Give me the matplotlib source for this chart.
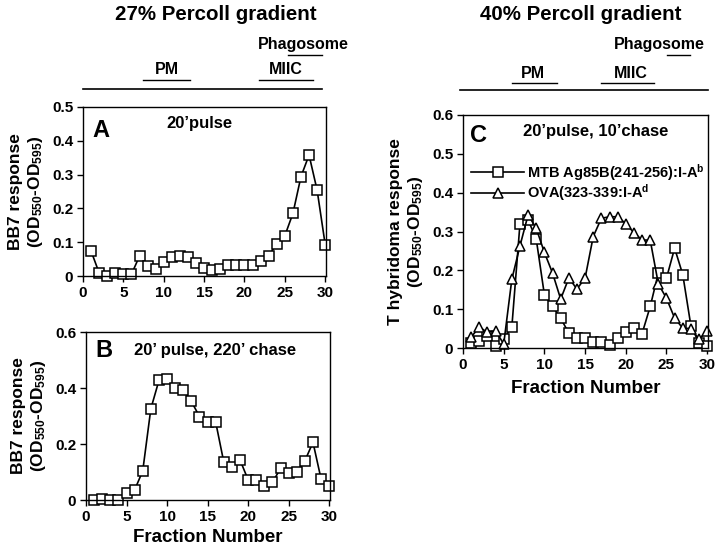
import numpy as np
import matplotlib
matplotlib.use('Agg')
import matplotlib.pyplot as plt
from matplotlib.lines import Line2D
from matplotlib.ticker import FuncFormatter

plt.rcParams['font.family'] = ['Liberation Sans', 'DejaVu Sans']
plt.rcParams['font.weight'] = 'bold'
plt.rcParams['axes.labelweight'] = 'bold'
plt.rcParams['mathtext.fontset'] = 'custom'
plt.rcParams['mathtext.rm'] = 'Liberation Sans:bold'
plt.rcParams['mathtext.it'] = 'Liberation Sans:bold'
plt.rcParams['mathtext.bf'] = 'Liberation Sans:bold'

# Fraction numbers
fractions = list(range(1, 31))

# Panel A: 27% Percoll, 20' pulse
bb7_pulse = [0.074, 0.009, 0.0, 0.009, 0.005, 0.005, 0.059, 0.030, 0.020, 0.042,
             0.056, 0.059, 0.056, 0.039, 0.025, 0.017, 0.020, 0.033, 0.033, 0.033,
             0.033, 0.045, 0.059, 0.096, 0.119, 0.185, 0.294, 0.358, 0.254, 0.093]

# Panel B: 27% Percoll, 20' pulse, 220' chase
bb7_chase = [0.0, 0.004, 0.0, 0.0, 0.024, 0.036, 0.104, 0.326, 0.427, 0.433,
             0.400, 0.394, 0.352, 0.298, 0.278, 0.278, 0.135, 0.119, 0.143, 0.072,
             0.072, 0.051, 0.063, 0.113, 0.095, 0.101, 0.140, 0.206, 0.075, 0.051]

# Panel C: 40% Percoll, 20' pulse, 10' chase
mtb_resp = [0.013, 0.017, 0.032, 0.004, 0.023, 0.054, 0.320, 0.330, 0.280, 0.137,
            0.107, 0.077, 0.038, 0.026, 0.026, 0.015, 0.015, 0.009, 0.026, 0.040,
            0.051, 0.037, 0.107, 0.193, 0.180, 0.257, 0.189, 0.057, 0.013, 0.004]
ova_resp = [0.028, 0.054, 0.040, 0.045, 0.010, 0.177, 0.263, 0.343, 0.308, 0.246,
            0.193, 0.126, 0.180, 0.152, 0.180, 0.287, 0.334, 0.338, 0.338, 0.320,
            0.297, 0.278, 0.278, 0.165, 0.128, 0.077, 0.051, 0.050, 0.023, 0.043]

W, H = 720, 548
fig = plt.figure(figsize=(W / 100, H / 100), dpi=100)


def px_axes(l, t, r, b):
    return fig.add_axes([l / W, 1 - b / H, (r - l) / W, (b - t) / H])


def hline(x0, x1, y, lw=1.0):
    fig.add_artist(Line2D([x0 / W, x1 / W], [1 - y / H, 1 - y / H],
                          color='black', lw=lw, transform=fig.transFigure))


def ftext(x, y, s, **kw):
    fig.text(x / W, 1 - y / H, s, **kw)


yfmt = FuncFormatter(lambda v, p: '0' if abs(v) < 1e-9 else f'{v:.1f}')


def style(ax, ymax, ystep):
    ax.set_xlim(0, 30.1)
    ax.set_ylim(0, ymax)
    ax.set_xticks(range(0, 31, 5))
    ax.set_yticks(np.arange(0, ymax + 1e-9, ystep))
    ax.yaxis.set_major_formatter(yfmt)
    ax.tick_params(direction='out', length=4, width=1, labelsize=11, pad=3)
    for sp in ax.spines.values():
        sp.set_linewidth(1.0)


sq = dict(marker='s', ms=7.2, mfc='white', mec='black', mew=1.1, color='black',
          lw=1.2, clip_on=False)
tri = dict(marker='^', ms=7.5, mfc='white', mec='black', mew=1.1, color='black',
           lw=1.2, clip_on=False)
ylab = '(OD$_{550}$-OD$_{595}$)'

# Panel A
axA = px_axes(83, 107, 326, 276)
axA.plot(fractions, bb7_pulse, **sq)
style(axA, 0.5, 0.1)
axA.set_ylabel('BB7 response\n' + ylab, fontsize=12.5, labelpad=5)
axA.text(0.04, 0.93, 'A', transform=axA.transAxes, fontsize=17, ha='left', va='top')
axA.text(0.48, 0.90, "20\u2019pulse", transform=axA.transAxes, fontsize=12,
         ha='center', va='center')

# Panel B
axB = px_axes(86, 332, 330, 500)
axB.plot(fractions, bb7_chase, **sq)
style(axB, 0.6, 0.2)
axB.set_ylabel('BB7 response\n' + ylab, fontsize=12.5, labelpad=5)
axB.set_xlabel('Fraction Number', fontsize=13.5, labelpad=4)
axB.text(0.04, 0.96, 'B', transform=axB.transAxes, fontsize=17, ha='left', va='top')
axB.text(0.53, 0.89, "20\u2019 pulse, 220\u2019 chase", transform=axB.transAxes,
         fontsize=12, ha='center', va='center')

# Panel C
axC = px_axes(463, 115, 708, 348)
axC.plot(fractions, mtb_resp, label='MTB Ag85B(241-256):I-A$^{b}$', **sq)
axC.plot(fractions, ova_resp, label='OVA(323-339:I-A$^{d}$', **tri)
style(axC, 0.6, 0.1)
axC.set_ylabel('T hybridoma response\n' + ylab, fontsize=12.5, labelpad=5)
axC.set_xlabel('Fraction Number', fontsize=13.5, labelpad=6)
axC.text(0.03, 0.96, 'C', transform=axC.transAxes, fontsize=17, ha='left', va='top')
axC.text(0.54, 0.93, "20\u2019pulse, 10\u2019chase", transform=axC.transAxes,
         fontsize=12, ha='center', va='center')
axC.legend(loc='upper left', bbox_to_anchor=(0.01, 0.825), frameon=False,
           handlelength=3.6, handletextpad=0.2, labelspacing=0.0,
           borderaxespad=0, prop={'weight': 'bold', 'size': 10.5})

# Headers
ftext(216, 14, '27% Percoll gradient', fontsize=14.8, ha='center', va='center')
ftext(581, 14, '40% Percoll gradient', fontsize=14.8, ha='center', va='center')

ftext(303, 45, 'Phagosome', fontsize=11.5, ha='center', va='center')
hline(288, 322, 55)
ftext(167, 70, 'PM', fontsize=11.5, ha='center', va='center')
hline(143, 190, 80)
ftext(286, 70, 'MIIC', fontsize=11.5, ha='center', va='center')
hline(259, 313, 80)
hline(83, 322, 89, lw=1.2)

ftext(659, 45, 'Phagosome', fontsize=11.5, ha='center', va='center')
hline(667, 690, 55)
ftext(533, 73, 'PM', fontsize=11.5, ha='center', va='center')
hline(512, 557, 83)
ftext(631, 73, 'MIIC', fontsize=11.5, ha='center', va='center')
hline(601, 654, 83)
hline(460, 708, 90, lw=1.2)

fig.savefig('out.png', dpi=100)
